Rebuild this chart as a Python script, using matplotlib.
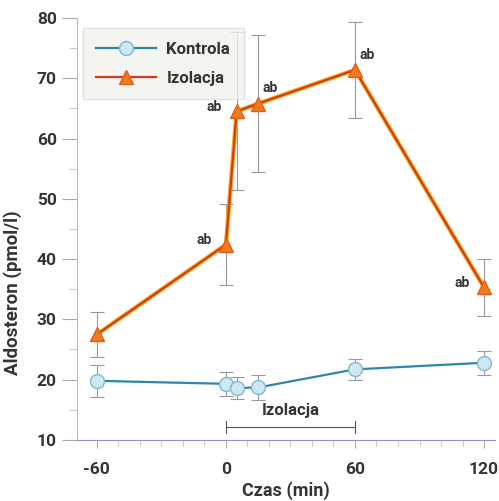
import numpy as np
import matplotlib.pyplot as plt
from matplotlib.ticker import MultipleLocator

czas = [-60, 0, 5, 15, 60, 120]
kontrola = [19.8, 19.3, 18.6, 18.7, 21.7, 22.8]
kontrola_err = [2.7, 2.0, 1.8, 2.0, 1.8, 2.0]
izolacja = [27.5, 42.4, 64.5, 65.8, 71.4, 35.3]
izolacja_err_lo = [3.7, 6.7, 13.0, 11.4, 8.0, 4.8]
izolacja_err_hi = [3.7, 6.7, 13.2, 11.4, 7.9, 4.7]
ab_idx = [1, 2, 3, 4, 5]

plt.rcParams['font.family'] = ['Roboto', 'DejaVu Sans']
plt.rcParams['font.weight'] = 'bold'
plt.rcParams['axes.labelweight'] = 'bold'
plt.rcParams['axes.unicode_minus'] = False

fig = plt.figure(figsize=(4.99, 5.01), dpi=100)
ax = fig.add_axes([0.154, 0.122, 0.838, 0.842])

ax.errorbar(czas, kontrola, yerr=kontrola_err, fmt='none', ecolor='#999999',
            elinewidth=0.8, capsize=5, capthick=0.8, zorder=1)
ax.errorbar(czas, izolacja, yerr=[izolacja_err_lo, izolacja_err_hi], fmt='none',
            ecolor='#999999', elinewidth=0.8, capsize=5, capthick=0.8, zorder=1)

ax.plot(czas, kontrola, color='#2f86a8', lw=1.6, marker='o', ms=10,
        mfc='#cde8f2', mec='#7fb8cf', mew=1, label='Kontrola', zorder=3)
ax.plot(czas, izolacja, color='#f2b01e', lw=3.2, zorder=2)
ax.plot(czas, izolacja, color='#d83a18', lw=1.6, marker='^', ms=10,
        mfc='#f07a1e', mec='#e0601a', mew=1, label='Izolacja', zorder=3)

for i in ab_idx:
    dx = -16 if i in (1, 2, 5) else 9
    dy = 3 if i in (1, 2, 5) else 11
    ax.annotate('ab', (czas[i], izolacja[i]), xytext=(dx, dy), textcoords='offset points',
                ha='center', va='center', fontsize=10, color='#333333')

# okres izolacji
ax.plot([0, 60], [12.2, 12.2], color='#555555', lw=0.8)
ax.plot([0, 0], [11.2, 13.2], color='#555555', lw=0.8)
ax.plot([60, 60], [11.2, 13.2], color='#555555', lw=0.8)
ax.text(30, 14.8, 'Izolacja', ha='center', va='center', fontsize=12, color='#333333')

ax.set_xlim(-69.3, 125.1)
ax.set_ylim(10, 80)
ax.set_xticks([-60, 0, 60, 120])
ax.xaxis.set_minor_locator(MultipleLocator(10))
ax.yaxis.set_major_locator(MultipleLocator(10))
ax.yaxis.set_minor_locator(MultipleLocator(5))
ax.tick_params(axis='y', which='major', length=11, color='#aaaaaa', labelsize=12.5,
               labelcolor='#333333', width=0.8)
ax.tick_params(axis='y', which='minor', length=6, color='#cccccc', width=0.8)
ax.tick_params(axis='x', which='major', length=6, color='#aaaaaa', labelsize=12.5,
               labelcolor='#333333', width=0.8, pad=10)
ax.tick_params(axis='x', which='minor', length=4, color='#cccccc', width=0.8)

for s in ['top', 'right']:
    ax.spines[s].set_visible(False)
ax.spines['left'].set_color('#bbbbbb')
ax.spines['bottom'].set_color('#8c90c8')

ax.set_xlabel('Czas (min)', fontsize=13, color='#333333', labelpad=3)
ax.set_ylabel('Aldosteron (pmol/l)', fontsize=13.5, color='#333333')
ax.yaxis.set_label_coords(-0.13, 0.35)

leg = ax.legend(loc='upper left', fontsize=12, frameon=True, fancybox=False,
                handlelength=3.6, handletextpad=0.6, borderpad=0.8, labelspacing=0.85,
                bbox_to_anchor=(-0.005, 0.995))
leg.get_frame().set_facecolor('#f2f2ee')
leg.get_frame().set_edgecolor('#dddddd')
for t in leg.get_texts():
    t.set_color('#333333')

fig.savefig('out.png', dpi=100)
